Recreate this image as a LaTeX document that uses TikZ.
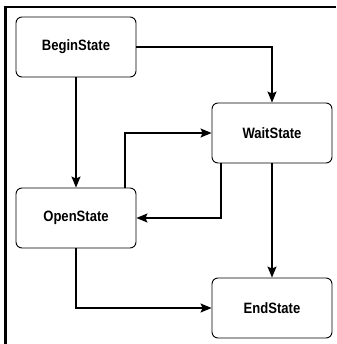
\documentclass[tikz,border=0pt]{standalone}
\usepackage{fontspec}
\setmainfont{Liberation Sans}[FakeStretch=0.87]
\usetikzlibrary{arrows.meta}

\tikzset{
    every state/.style={draw, rounded corners=6pt, line width=0.9pt,
        minimum width=120pt, minimum height=60pt,
        font=\fontsize{15}{17}\selectfont\bfseries},
    flow/.style={line width=1.1pt, -{Stealth[length=11pt, width=9pt, inset=2pt]}}
}

\begin{document}
\begin{tikzpicture}[x=1pt, y=-1pt]
        \useasboundingbox (0,0) rectangle (336,344);

        %%%%%%%%%%%%%%%%%%%%%%%%%%%%%%%%%%%%%%%%%%%%
        % Frame
        %%%%%%%%%%%%%%%%%%%%%%%%%%%%%%%%%%%%%%%%%%%%
        \draw [line width=2.5pt] (5.5,344) -- (5.5,7) -- (336,7);

        %%%%%%%%%%%%%%%%%%%%%%%%%%%%%%%%%%%%%%%%%%%%
        % States
        %%%%%%%%%%%%%%%%%%%%%%%%%%%%%%%%%%%%%%%%%%%%
        \node [every state] (begin) at (76,47)  {BeginState};
        \node [every state] (wait)  at (272,133) {WaitState};
        \node [every state] (open)  at (76,218) {OpenState};
        \node [every state] (end)   at (272,308) {EndState};

        %%%%%%%%%%%%%%%%%%%%%%%%%%%%%%%%%%%%%%%%%%%%
        % Transitions
        %%%%%%%%%%%%%%%%%%%%%%%%%%%%%%%%%%%%%%%%%%%%
        \draw [flow] (begin.east) -| (wait.north);
        \draw [flow] (begin.south) -- (open.north);
        \draw [flow] ([xshift=49pt]open.north) |- (wait.west);
        \draw [flow] ([xshift=-51pt]wait.south) |- (open.east);
        \draw [flow] (wait.south) -- (end.north);
        \draw [flow] (open.south) |- (end.west);
    \end{tikzpicture}
\end{document}
